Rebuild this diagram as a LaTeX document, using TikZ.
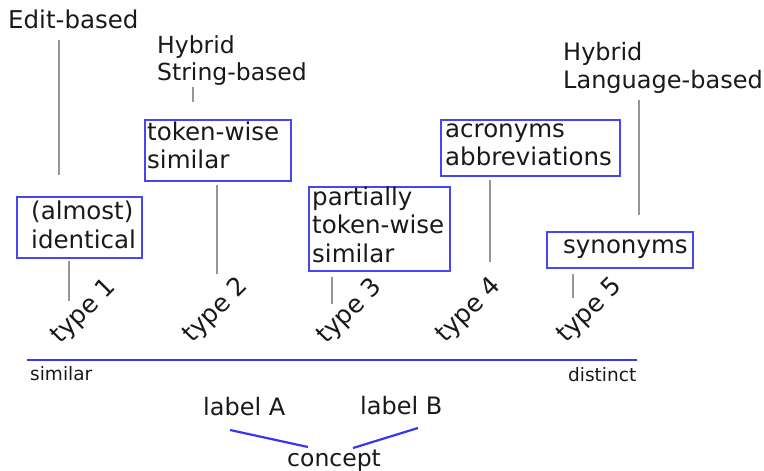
\documentclass[tikz,border=0pt]{standalone}
\usepackage{fontspec}
\setmainfont{DejaVu Sans}
\definecolor{boxblue}{RGB}{70,70,245}
\definecolor{axisblue}{RGB}{55,55,240}
\definecolor{stem}{RGB}{150,150,150}
\definecolor{ink}{RGB}{25,25,25}
\tikzset{
  txt/.style={inner sep=0pt, anchor=base west, align=left, text=ink,
    font=\fontsize{24}{28}\selectfont},
  boxtxt/.style={txt, font=\fontsize{24.5}{28}\selectfont},
  small/.style={txt, font=\fontsize{18.5}{20}\selectfont},
  box/.style={draw=boxblue, line width=1.6pt, inner sep=0pt, anchor=north west},
  conn/.style={draw=stem, line width=1.4pt},
  blueline/.style={draw=axisblue, line width=2.6pt},
  typelabel/.style={inner sep=0pt, rotate=45, text=ink,
    font=\fontsize{25}{28}\selectfont},
}
\begin{document}
\begin{tikzpicture}[x=1pt,y=-1pt]
\useasboundingbox (0,0) rectangle (764,471);

% approach headings (anchored on the baseline of the last line)
\node[txt, font=\fontsize{24.5}{28}\selectfont] (edit) at (8,28) {Edit-based};
\node[txt, font=\fontsize{23.5}{27}\selectfont] (hstring) at (157,80) {Hybrid\\String-based};
\node[txt] (hlang) at (563,88) {Hybrid\\Language-based};

% category boxes
\node[box, minimum width=125, minimum height=61] (b1) at (16,196) {};
\node[boxtxt, font=\fontsize{24.5}{29}\selectfont] (t1) at (31,248) {(almost)\\identical};
\node[box, minimum width=146, minimum height=61] (b2) at (144,119) {};
\node[boxtxt] (t2) at (147,168) {token-wise\\similar};
\node[box, minimum width=141, minimum height=84] (b3) at (308,186) {};
\node[boxtxt, font=\fontsize{24.5}{28.5}\selectfont] (t3) at (312,262) {partially\\token-wise\\similar};
\node[box, minimum width=179, minimum height=56] (b4) at (440,119) {};
\node[boxtxt] (t4) at (445,165) {acronyms\\abbreviations};
\node[box, minimum width=146, minimum height=36] (b5) at (546,231) {};
\node[boxtxt] (t5) at (563,253) {synonyms};

% clone types
\node[typelabel] (ty1) at (84,312) {type 1};
\node[typelabel] (ty2) at (216,311) {type 2};
\node[typelabel] (ty3) at (350,312) {type 3};
\node[typelabel] (ty4) at (469,311) {type 4};
\node[typelabel] (ty5) at (590,311) {type 5};

% stems between headings, boxes and types
\coordinate (e0) at (59,40);   \coordinate (e1) at (59,175);
\coordinate (s0) at (193,87);  \coordinate (s1) at (193,102);
\coordinate (k0) at (217,185); \coordinate (k1) at (217,274);
\coordinate (a0) at (69,261);  \coordinate (a1) at (69,301);
\coordinate (p0) at (332,277); \coordinate (p1) at (332,304);
\coordinate (r0) at (490,180); \coordinate (r1) at (490,262);
\coordinate (l0) at (639,100); \coordinate (l1) at (639,215);
\coordinate (y0) at (573,274); \coordinate (y1) at (573,298);
\draw[conn] (e0) -- (e1);
\draw[conn] (s0) -- (s1);
\draw[conn] (k0) -- (k1);
\draw[conn] (a0) -- (a1);
\draw[conn] (p0) -- (p1);
\draw[conn] (r0) -- (r1);
\draw[conn] (l0) -- (l1);
\draw[conn] (y0) -- (y1);

% similarity axis
\coordinate (ax0) at (27,360);
\coordinate (ax1) at (637,360);
\draw[blueline] (ax0) -- (ax1);
\node[small] (sim) at (30,380) {similar};
\node[small] (dis) at (568,381) {distinct};

% labels and concept
\node[txt] (la) at (203,415) {label A};
\node[txt] (lb) at (360,414) {label B};
\node[txt, font=\fontsize{23.5}{28}\selectfont] (con) at (287,466) {concept};
\coordinate (ca0) at (230,430); \coordinate (ca1) at (308,447);
\coordinate (cb0) at (353,448); \coordinate (cb1) at (418,428);
\draw[blueline, line width=2.2pt] (ca0) -- (ca1);
\draw[blueline, line width=2.2pt] (cb0) -- (cb1);
\end{tikzpicture}
\end{document}
